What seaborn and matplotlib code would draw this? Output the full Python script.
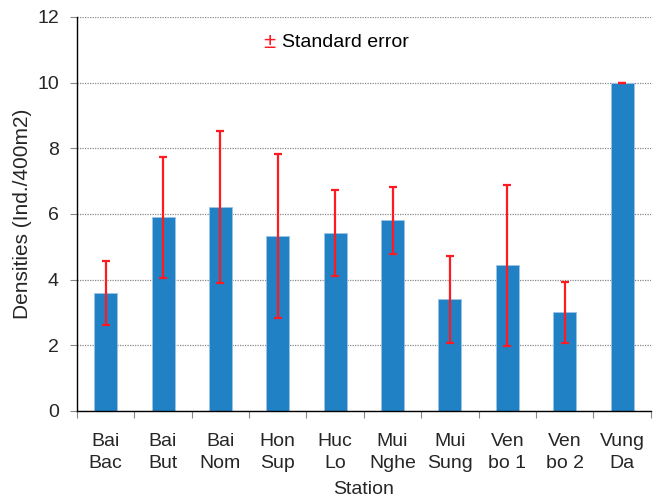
import matplotlib
matplotlib.use("Agg")
import matplotlib.pyplot as plt
import seaborn as sns
import pandas as pd
import numpy as np
from matplotlib.ticker import FixedLocator

stations = ["Bai\nBac", "Bai\nBut", "Bai\nNom", "Hon\nSup", "Huc\nLo",
            "Mui\nNghe", "Mui\nSung", "Ven\nbo 1", "Ven\nbo 2", "Vung\nDa"]
densities = [3.6, 5.9, 6.2, 5.33, 5.42, 5.8, 3.4, 4.43, 3.0, 10.0]
std_err = [0.98, 1.84, 2.32, 2.49, 1.31, 1.02, 1.33, 2.46, 0.92, 0.0]
y_ticks = [0, 2, 4, 6, 8, 10, 12]

df = pd.DataFrame({"Station": stations, "Density": densities, "SE": std_err})

sns.set_style("white")
plt.rcParams["font.family"] = ["Liberation Sans", "DejaVu Sans"]
FS = 14

fig = plt.figure(figsize=(6.58, 4.98), dpi=100)
ax = fig.add_axes([0.117, 0.175, 0.872, 0.791])

sns.barplot(data=df, x="Station", y="Density", color="#2181C5", width=0.4,
            errorbar=None, saturation=1, edgecolor="#9CC3E4", linewidth=0.6,
            ax=ax, zorder=2)

xpos = np.arange(len(stations))
ax.errorbar(xpos, df["Density"], yerr=df["SE"], fmt="none", ecolor="#FF1A22",
            elinewidth=1.6, capsize=3.2, capthick=1.6, zorder=3)

ax.set_ylim(0, 12)
ax.set_xlim(-0.5, len(stations) - 0.5)
ax.set_yticks(y_ticks)
ax.set_yticklabels([str(t) for t in y_ticks], fontsize=FS)
ax.yaxis.grid(True, linestyle=(0, (1, 1)), color="#888888", linewidth=0.9, zorder=0)
ax.set_axisbelow(True)

ax.set_xticks(xpos)
ax.set_xticklabels(stations, fontsize=FS, linespacing=1.4)
ax.tick_params(axis="x", which="major", length=0, pad=16)
ax.xaxis.set_minor_locator(FixedLocator(np.arange(-0.5, len(stations), 1.0)))
ax.tick_params(axis="x", which="minor", length=5, width=0.8, color="#888888", direction="out", bottom=True)
ax.tick_params(axis="y", which="major", length=5, width=0.8, color="#888888", direction="out", left=True, pad=8)

ax.set_xlabel("Station", fontsize=FS, labelpad=6)
ax.set_ylabel("Densities (Ind./400m2)", fontsize=15, labelpad=4)

for s in ["top", "right"]:
    ax.spines[s].set_visible(False)
for s in ["left", "bottom"]:
    ax.spines[s].set_color("black")
    ax.spines[s].set_linewidth(1.0)

ax.text(0.336, 0.935, "±", color="#FF1A22", fontsize=16, transform=ax.transAxes,
        ha="center", va="center")
ax.text(0.357, 0.935, "Standard error", color="black", fontsize=FS,
        transform=ax.transAxes, ha="left", va="center")

fig.savefig("out.png", dpi=100)
